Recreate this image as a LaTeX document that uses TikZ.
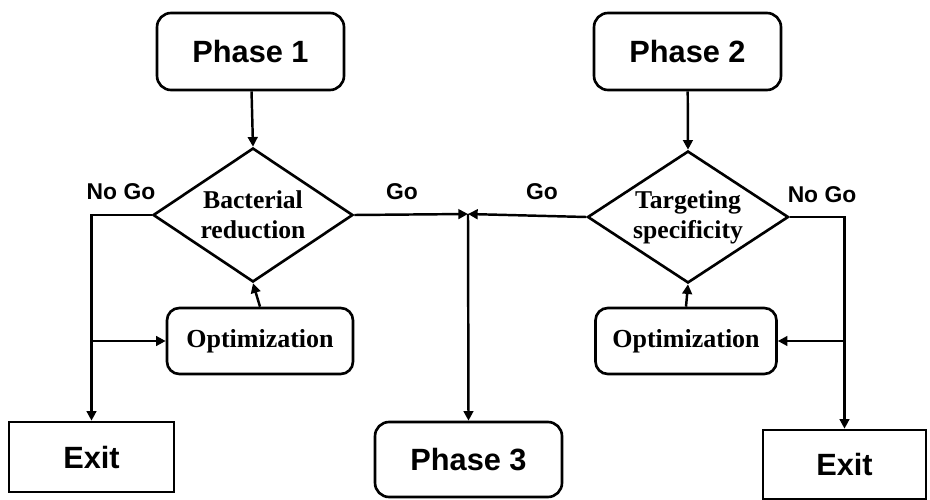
\documentclass[tikz,border=0pt]{standalone}
\usepackage{fontspec}
\setmainfont{Liberation Serif}
\setsansfont{Liberation Sans}
\usetikzlibrary{shapes.geometric,arrows.meta}

\tikzset{
  phasebox/.style={draw, line width=1.5pt, rounded corners=8pt, minimum width=3.74cm, minimum height=1.54cm, font=\sffamily\bfseries\fontsize{17.5}{20}\selectfont},
  exitbox/.style={draw, line width=1.5pt, minimum width=3.3cm, minimum height=1.4cm, font=\sffamily\bfseries\fontsize{17.5}{20}\selectfont},
  optbox/.style={draw, line width=1.5pt, rounded corners=7pt, minimum height=1.32cm, font=\bfseries\fontsize{14.8}{17}\selectfont},
  decision/.style={draw, diamond, aspect=1.5, line width=1.5pt, inner sep=0pt, align=center, font=\bfseries\fontsize{14.6}{17}\selectfont},
  golabel/.style={font=\sffamily\bfseries\fontsize{13}{15}\selectfont},
  flow/.style={line width=1.4pt, -{Triangle[length=5.5pt,width=5.5pt]}},
  plain/.style={line width=1.4pt}
}

\begin{document}
\begin{tikzpicture}[x=0.02cm, y=-0.02cm] %Phase 1 / Phase 2 go--no go flow
            \useasboundingbox (0,0) rectangle (930,500);

            \node[phasebox] (p1) at (250.5,51.5) {Phase 1};
            \node[phasebox] (p2) at (687.5,51.5) {Phase 2};
            \node[phasebox, minimum height=1.5cm] (p3) at (468.5,459.5) {Phase 3};

            \node[decision, minimum width=4cm, minimum height=2.68cm] (d1) at (253,215) {Bacterial\\reduction};
            \node[decision, minimum width=4.02cm, minimum height=2.64cm] (d2) at (688,217) {Targeting\\specificity};

            \node[optbox, minimum width=3.72cm] (o1) at (260,341) {Optimization};
            \node[optbox, minimum width=3.62cm] (o2) at (686,341) {Optimization};

            \node[exitbox] (e1) at (91.5,457) {Exit};
            \node[exitbox, minimum width=3.26cm, minimum height=1.38cm] (e2) at (844.5,464.5) {Exit};

            \node[golabel] (ng1) at (121,192) {No Go};
            \node[golabel] (g1) at (402,192) {Go};
            \node[golabel] (g2) at (542,192) {Go};
            \node[golabel] (ng2) at (822,195) {No Go};

            \coordinate (merge) at (468,214);
            \coordinate (s1) at (e1.north |- o1.west);
            \coordinate (s2) at (e2.north |- o2.east);

            \draw[flow] (p1) -- (d1.north);
            \draw[flow] (p2) -- (d2.north);

            \draw[flow] (d1.east) -- (merge);
            \draw[flow] (d2.west) -- (merge);
            \draw[flow] (merge) -- (p3.north);

            \draw[flow] (d1.west) -| (e1.north);
            \draw[flow] (s1) -- (o1.west);
            \draw[flow] (o1.north) -- (d1.south);

            \draw[flow] (d2.east) -| (e2.north);
            \draw[flow] (s2) -- (o2.east);
            \draw[flow] (o2.north) -- (d2.south);
        \end{tikzpicture}
\end{document}
